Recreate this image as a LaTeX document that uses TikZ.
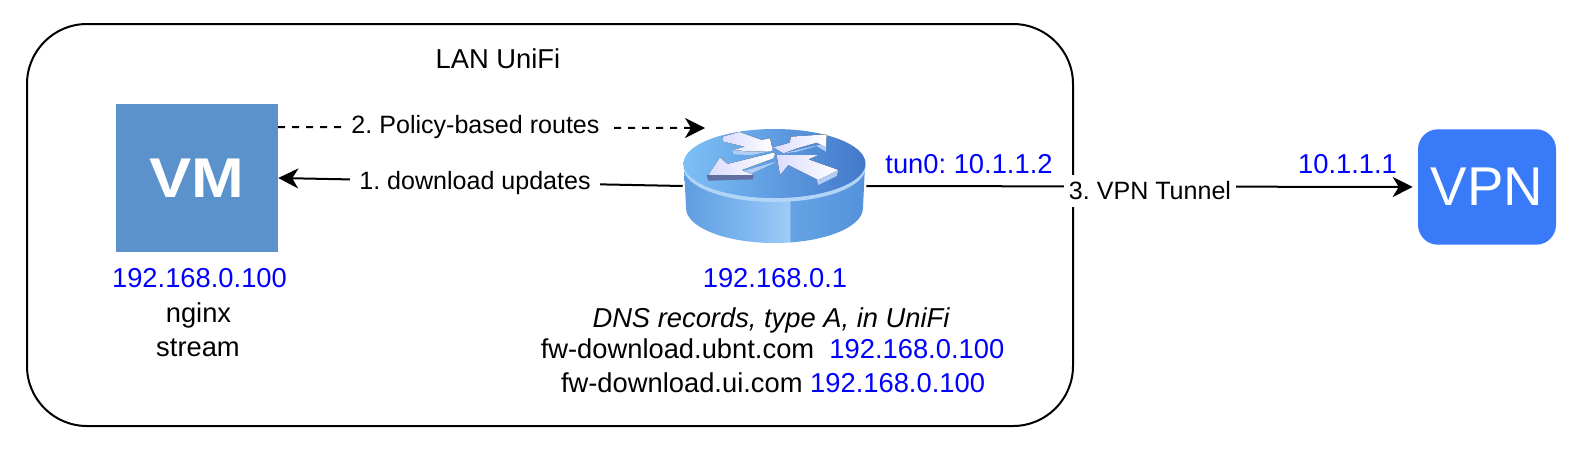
\documentclass[tikz,border=0pt]{standalone}
\usepackage{fontspec}
\usepackage{graphicx}
\setmainfont{Liberation Sans}
\frenchspacing
\usetikzlibrary{arrows.meta,calc}
\definecolor{ipblue}{RGB}{0,0,255}
\definecolor{vmfill}{RGB}{91,146,203}
\definecolor{vpnfill}{RGB}{56,122,247}
\definecolor{rs0}{RGB}{125,186,242}
\definecolor{rs1}{RGB}{104,168,232}
\definecolor{rs2}{RGB}{94,157,226}
\definecolor{rs3}{RGB}{128,184,240}
\definecolor{rs4}{RGB}{158,202,246}
\definecolor{rs5}{RGB}{100,164,228}
\definecolor{rs6}{RGB}{74,134,214}
\definecolor{rs7}{RGB}{146,190,238}
\definecolor{rtopL}{RGB}{124,192,247}
\definecolor{rtopR}{RGB}{66,120,202}
\definecolor{rim}{RGB}{178,212,246}
\definecolor{arrowside}{RGB}{178,206,246}
\definecolor{arrowdark}{RGB}{96,110,160}
\pgfdeclarehorizontalshading{routerside}{100bp}{
 color(0bp)=(rs0);
 color(6bp)=(rs1);
 color(25bp)=(rs2);
 color(43bp)=(rs3);
 color(54bp)=(rs4);
 color(54.5bp)=(rs5);
 color(88bp)=(rs6);
 color(100bp)=(rs7)}
\tikzset{
 lbl/.style={font=\fontsize{20.5pt}{24pt}\selectfont,inner sep=0pt,align=center,anchor=base},
 iplbl/.style={lbl,text=ipblue},
 conn/.style={line width=1.5pt,-{Stealth[length=15pt,width=15pt,inset=4.5pt]}},
 mask/.style={font=\fontsize{18.8pt}{22pt}\selectfont,inner sep=0pt,fill=white},
 arw/.style={draw=none,left color=blue!14!white,right color=white}
}
\begin{document}
\begin{tikzpicture}[x=0.75pt,y=-0.75pt]
\useasboundingbox (0,0) rectangle (1580,450);
\fill[white] (0,0) rectangle (1580,450);
\draw[line width=1.5pt,rounded corners=45pt] (27,24) rectangle (1073,426);
\node[lbl] (lan) at (498,68) {LAN UniFi};
% VM
\node[fill=vmfill,minimum width=121.5pt,minimum height=111pt,inner sep=0pt,
      text=white,font=\fontsize{42pt}{44pt}\selectfont\bfseries] (vm) at (197,178) {\scalebox{1.13}[1]{VM}};
% VPN
\node[fill=vpnfill,rounded corners=15pt,minimum width=103.5pt,minimum height=86.6pt,inner sep=0pt,
      text=white,font=\fontsize{41pt}{44pt}\selectfont] (vpn) at (1487,187) {VPN};
% Router
\node[minimum width=137.25pt,minimum height=85.5pt,inner sep=0pt] (router) at (774.5,186) {};
\path[shading=routerside] (684,165) -- (686,208) arc[start angle=180,end angle=0,x radius=88.5,y radius=35] -- (865,165) -- cycle;
\fill[rim] (683.5,163.5) arc[start angle=180,end angle=0,x radius=91,y radius=34.5] -- (865.5,167.5) arc[start angle=0,end angle=180,x radius=91,y radius=34.5] -- cycle;
\path[left color=rtopL,right color=rtopR] (683.5,163.5) arc[start angle=180,end angle=-180,x radius=91,y radius=34.5];
\begin{scope}[shift={(640,90)},x=0.25pt,y=-0.25pt]
 \fill[arrowside] (248,150)--(250,155)--(315,170)--(278,180)--(280,193)--(335,195)--(398,182)--(400,172)--cycle;
 \fill[arw] (248,140)--(298,126)--(365,150)--(390,145)--(398,182)--(335,185)--(280,180)--(315,170)--(250,155)--cycle;
 \fill[arrowside] (305,245)--(340,265)--(335,250)--(400,220)--(408,215)--cycle;
 \fill[arw] (405,192)--(400,205)--(305,240)--(340,255)--(205,255)--(240,202)--(262,222)--(400,188)--cycle;
 \fill[arrowdark] (200,255)--(340,255)--(340,268)--(205,272)--cycle;
 \fill[arrowside] (558,160)--(558,185)--(530,168)--(470,185)--(430,190)--cycle;
 \fill[arw] (400,172)--(450,158)--(452,140)--(560,133)--(558,172)--(530,158)--(470,175)--(430,190)--cycle;
 \fill[arrowside] (595,240)--(590,258)--(535,285)--(530,268)--cycle;
 \fill[arw] (410,195)--(535,195)--(505,208)--(595,240)--(535,270)--(445,225)--(420,255)--cycle;
\end{scope}
% connectors
\coordinate (dashstart) at (278,127);
\coordinate (dashend) at (705,128);
\draw[conn,dash pattern=on 5.25pt off 5.25pt] (dashstart) -- (dashend);
\draw[conn] (router.west) -- (vm.east);
\draw[conn,shorten >=3.75pt] (router.east) -- (vpn.west);
% connector labels
\node[mask,inner xsep=6pt,inner ysep=2pt] (pbr) at (475.5,127) {2. Policy-based routes};
\node[mask,inner xsep=7pt,inner ysep=2pt] (dl) at (475,183) {1. download updates};
\node[mask,inner xsep=4pt,minimum height=24pt] (tun) at (1150,191) {3. VPN Tunnel};
% labels
\node[iplbl] (ipvm) at (199.5,287) {192.168.0.100};
\node[lbl] (nginx) at (198.5,322) {nginx};
\node[lbl] (stream) at (198,356) {stream};
\node[iplbl] (iprt) at (775,287) {192.168.0.1};
\node[lbl,font=\fontsize{20.5pt}{24pt}\selectfont\itshape] (dns) at (771,327) {DNS records, type A, in UniFi};
\node[lbl] (rec1) at (772.5,358) {fw-download.ubnt.com\ \ \textcolor{ipblue}{192.168.0.100}};
\node[lbl] (rec2) at (773,392) {fw-download.ui.com \textcolor{ipblue}{192.168.0.100}};
\node[iplbl] (tun0) at (969,173) {tun0: 10.1.1.2};
\node[iplbl] (vpnip) at (1347.5,173) {10.1.1.1};
\end{tikzpicture}
\end{document}
